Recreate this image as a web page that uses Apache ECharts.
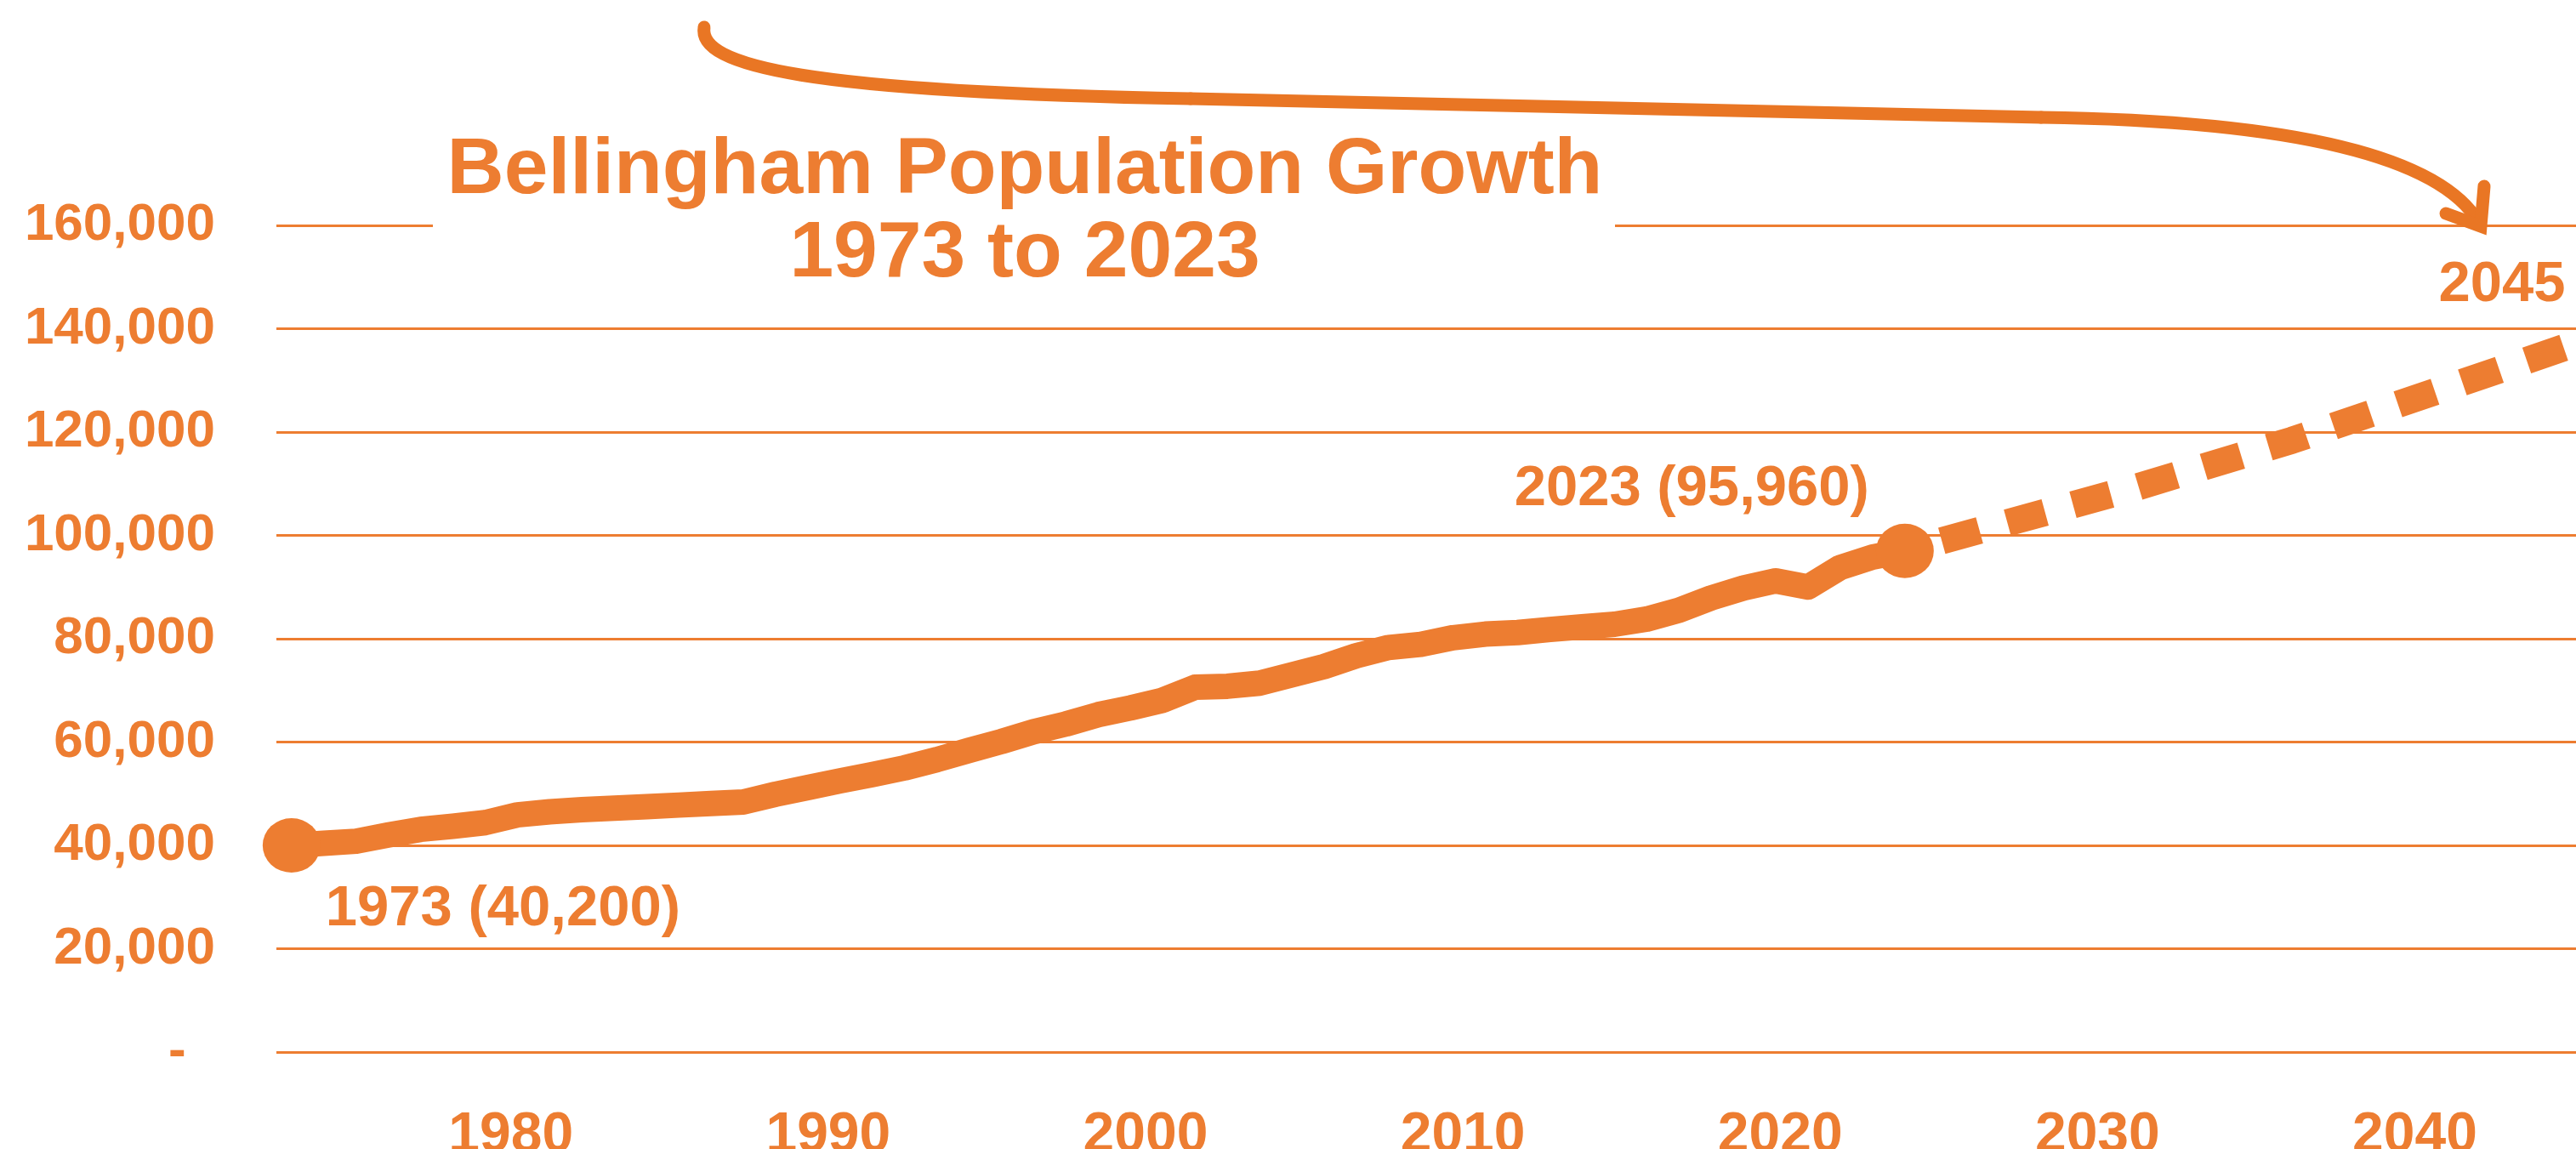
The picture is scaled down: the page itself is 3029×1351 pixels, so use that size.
<!DOCTYPE html>
<html>
<head>
<meta charset="utf-8">
<title>Bellingham Population Growth</title>
<script src="https://cdn.jsdelivr.net/npm/echarts@6/dist/echarts.min.js"></script>
<style>
  html, body { margin: 0; padding: 0; background: #fff; }
  #chart { width: 3029px; height: 1351px; }
</style>
</head>
<body>
<div id="chart"></div>
<script>
// population, one value per year
const years = [
  1973, 1974, 1975, 1976, 1977, 1978, 1979, 1980, 1981, 1982,
  1983, 1984, 1985, 1986, 1987, 1988, 1989, 1990, 1991, 1992,
  1993, 1994, 1995, 1996, 1997, 1998, 1999, 2000, 2001, 2002,
  2003, 2004, 2005, 2006, 2007, 2008, 2009, 2010, 2011, 2012,
  2013, 2014, 2015, 2016, 2017, 2018, 2019, 2020, 2021, 2022,
  2023
];
const population = [
  40000, 40400, 40800, 42000, 43100, 43700, 44400, 45900, 46500, 46900,
  47200, 47500, 47800, 48100, 48400, 49900, 51200, 52500, 53700, 55000,
  56600, 58400, 60100, 62000, 63500, 65300, 66600, 68100, 70600, 70800,
  71400, 73000, 74600, 76700, 78300, 78900, 80200, 80900, 81200, 81800,
  82300, 82800, 83800, 85500, 87900, 89800, 91200, 90000, 93800, 95800,
  97000
];

// dashed projection
const projYears = [2023, 2030, 2035, 2040, 2045];
const projection = [97000, 109000, 118400, 129000, 139700];

// texts
const endLabels = ['1973 (40,200)', '2023 (95,960)'];
const xLabelYears = [1980, 1990, 2000, 2010, 2020, 2030, 2040];
const titleLines = ['Bellingham Population Growth', '1973 to 2023'];
const horizonLabel = '2045';

const orange = '#ED7D31';
const arrowColor = '#E97624';
const font = '"Liberation Sans", Arial, sans-serif';

const chart = echarts.init(document.getElementById('chart'));

const solid = years.map((y, i) => [y, population[i]]);
const dashed = projYears.map((y, i) => [y, projection[i]]);
const last = years.length - 1;

const option = {
  animation: false,
  backgroundColor: '#fff',
  grid: { left: 325, right: 0, top: 265, bottom: 114, containLabel: false, outerBoundsMode: 'none' },
  xAxis: [
    {
      // axis the line is drawn on
      type: 'value',
      min: 1972.53,
      max: 2043.8,
      show: false
    },
    {
      // axis the decade labels sit on
      type: 'value',
      position: 'bottom',
      min: 1972.61,
      max: 2045.08,
      axisLine: { show: false },
      axisTick: { show: false },
      splitLine: { show: false },
      axisLabel: {
        customValues: xLabelYears,
        formatter: v => String(v),
        margin: 66,
        color: orange,
        fontSize: 66,
        fontWeight: 'bold',
        fontFamily: font
      }
    }
  ],
  yAxis: {
    type: 'value',
    min: 0,
    max: 160000,
    interval: 20000,
    axisLine: { show: false },
    axisTick: { show: false },
    splitLine: { lineStyle: { color: orange, width: 3 } },
    axisLabel: {
      margin: 72,
      color: orange,
      fontSize: 62,
      fontWeight: 'bold',
      fontFamily: font,
      formatter: v => v === 0 ? '-  ' : v.toLocaleString('en-US')
    }
  },
  series: [
    {
      type: 'line',
      xAxisIndex: 0,
      data: dashed,
      showSymbol: false,
      lineStyle: { color: orange, width: 32, type: [46, 34], dashOffset: 35, cap: 'butt' },
      z: 2
    },
    {
      type: 'line',
      xAxisIndex: 0,
      data: solid,
      showSymbol: false,
      lineStyle: { color: orange, width: 30, join: 'round', cap: 'round' },
      z: 3
    },
    {
      type: 'scatter',
      xAxisIndex: 0,
      symbol: 'circle',
      symbolSize: [68, 64],
      itemStyle: { color: orange, opacity: 1 },
      z: 4,
      label: {
        show: true,
        color: orange,
        fontSize: 67,
        fontWeight: 'bold',
        fontFamily: font,
        verticalAlign: 'middle'
      },
      data: [
        {
          value: solid[0],
          label: { formatter: endLabels[0], position: [74, 108], align: 'left' }
        },
        {
          value: solid[last],
          label: { formatter: endLabels[1], position: [-8, -40], align: 'right' }
        }
      ]
    }
  ],
  graphic: [
    // gap in the top gridline behind the title
    { type: 'rect', z: 10, shape: { x: 509, y: 250, width: 1390, height: 32 }, style: { fill: '#fff' } },
    {
      type: 'text', z: 11, x: 1205, y: 201,
      style: { text: titleLines[0], fill: orange, font: 'bold 93px ' + font, align: 'center', verticalAlign: 'middle' }
    },
    {
      type: 'text', z: 11, x: 1205, y: 299,
      style: { text: titleLines[1], fill: orange, font: 'bold 93px ' + font, align: 'center', verticalAlign: 'middle' }
    },
    {
      type: 'text', z: 11, x: 2942, y: 336,
      style: { text: horizonLabel, fill: orange, font: 'bold 67px ' + font, align: 'center', verticalAlign: 'middle' }
    },
    // hand drawn arrow from the top towards 2045
    {
      type: 'bezierCurve', z: 11,
      shape: { x1: 828, y1: 32, cpx1: 820, cpy1: 78, cpx2: 950, cpy2: 108, x2: 1400, y2: 116 },
      style: { stroke: arrowColor, lineWidth: 15, fill: null, lineCap: 'round' }
    },
    {
      type: 'line', z: 11,
      shape: { x1: 1400, y1: 116, x2: 2400, y2: 138 },
      style: { stroke: arrowColor, lineWidth: 15, lineCap: 'round' }
    },
    {
      type: 'bezierCurve', z: 11,
      shape: { x1: 2400, y1: 138, cpx1: 2700, cpy1: 142, cpx2: 2870, cpy2: 185, x2: 2915, y2: 262 },
      style: { stroke: arrowColor, lineWidth: 15, fill: null, lineCap: 'round' }
    },
    {
      type: 'polyline', z: 11,
      shape: { points: [[2876, 251], [2917, 266], [2921, 219]] },
      style: { stroke: arrowColor, lineWidth: 15, fill: null, lineCap: 'round', lineJoin: 'miter' }
    }
  ]
};

chart.setOption(option);
</script>
</body>
</html>
